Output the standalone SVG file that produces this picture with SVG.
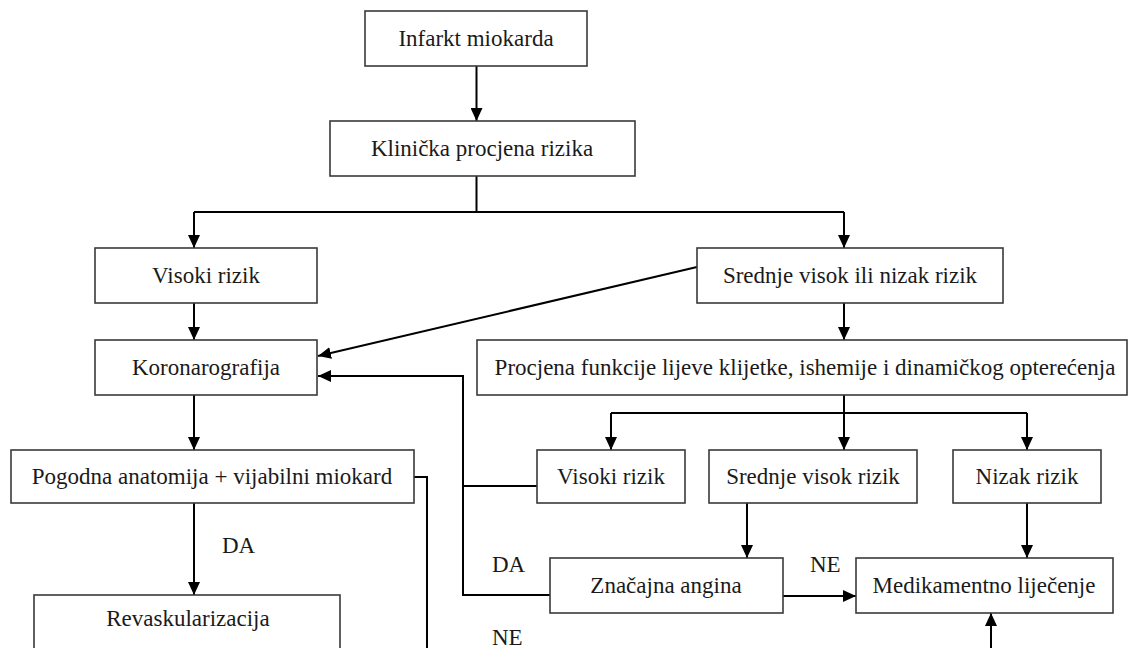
<svg xmlns="http://www.w3.org/2000/svg" width="1128" height="648" viewBox="0 0 1128 648">
<defs>
<marker id="ah" markerUnits="userSpaceOnUse" markerWidth="13" markerHeight="12" refX="13" refY="6" orient="auto">
<path d="M0,0 L13,6 L0,12 z" fill="#000"/>
</marker>
</defs>
<rect width="1128" height="648" fill="#fff"/>
<g id="connectors" fill="none" stroke="#000" stroke-width="2">
<path d="M476.5,66 V121" marker-end="url(#ah)"/>
<path d="M476.5,176 V212"/>
<path d="M194,212 H844"/>
<path d="M194,212 V248" marker-end="url(#ah)"/>
<path d="M844,212 V248" marker-end="url(#ah)"/>
<path d="M194,303 V340" marker-end="url(#ah)"/>
<path d="M697,267 L318,356" marker-end="url(#ah)"/>
<path d="M844,303 V340" marker-end="url(#ah)"/>
<path d="M194,395 V450" marker-end="url(#ah)"/>
<path d="M844,395 V413"/>
<path d="M611,413 H1027"/>
<path d="M611,413 V450" marker-end="url(#ah)"/>
<path d="M844,413 V450" marker-end="url(#ah)"/>
<path d="M1027,413 V450" marker-end="url(#ah)"/>
<path d="M550,595 H463 V376 H318" marker-end="url(#ah)"/>
<path d="M537,486 H463"/>
<path d="M194,503 V595" marker-end="url(#ah)"/>
<path d="M414,477 H427 V648"/>
<path d="M747,503 V558" marker-end="url(#ah)"/>
<path d="M1027,503 V558" marker-end="url(#ah)"/>
<path d="M783,596 H856" marker-end="url(#ah)"/>
<path d="M991,648 V613" marker-end="url(#ah)"/>
</g>
<g id="labels" fill="#1a1a1a" font-family="Liberation Serif" font-size="23">
<text x="222" y="553">DA</text>
<text x="492" y="572">DA</text>
<text x="810" y="572">NE</text>
<text x="492" y="645">NE</text>
</g>
<g id="nodes" font-family="Liberation Serif" font-size="23" text-anchor="middle">
<g id="infarkt"><rect x="365" y="11" width="222" height="55" fill="#fff" stroke="#3a3a3a" stroke-width="1.6"/><text x="476" y="46" fill="#1a1a1a">Infarkt miokarda</text></g>
<g id="klinicka"><rect x="330" y="121" width="305" height="55" fill="#fff" stroke="#3a3a3a" stroke-width="1.6"/><text x="482" y="156" fill="#1a1a1a">Klinička procjena rizika</text></g>
<g id="visoki1"><rect x="95" y="248" width="222" height="55" fill="#fff" stroke="#3a3a3a" stroke-width="1.6"/><text x="206" y="283" fill="#1a1a1a">Visoki rizik</text></g>
<g id="srednje-nizak"><rect x="697" y="248" width="306" height="55" fill="#fff" stroke="#3a3a3a" stroke-width="1.6"/><text x="850" y="283" fill="#1a1a1a">Srednje visok ili nizak rizik</text></g>
<g id="koronarografija"><rect x="95" y="340" width="222" height="55" fill="#fff" stroke="#3a3a3a" stroke-width="1.6"/><text x="206" y="375" fill="#1a1a1a">Koronarografija</text></g>
<g id="procjena"><rect x="477" y="340" width="650" height="55" fill="#fff" stroke="#3a3a3a" stroke-width="1.6"/><text x="805" y="375" fill="#1a1a1a">Procjena funkcije lijeve klijetke, ishemije i dinamičkog opterećenja</text></g>
<g id="pogodna"><rect x="11" y="450" width="403" height="53" fill="#fff" stroke="#3a3a3a" stroke-width="1.6"/><text x="212" y="484" fill="#1a1a1a">Pogodna anatomija + vijabilni miokard</text></g>
<g id="visoki2"><rect x="537" y="450" width="148" height="53" fill="#fff" stroke="#3a3a3a" stroke-width="1.6"/><text x="611" y="484" fill="#1a1a1a">Visoki rizik</text></g>
<g id="srednje"><rect x="709" y="450" width="208" height="53" fill="#fff" stroke="#3a3a3a" stroke-width="1.6"/><text x="813" y="484" fill="#1a1a1a">Srednje visok rizik</text></g>
<g id="nizak"><rect x="953" y="450" width="148" height="53" fill="#fff" stroke="#3a3a3a" stroke-width="1.6"/><text x="1027" y="484" fill="#1a1a1a">Nizak rizik</text></g>
<g id="znacajna"><rect x="550" y="558" width="233" height="55" fill="#fff" stroke="#3a3a3a" stroke-width="1.6"/><text x="666" y="593" fill="#1a1a1a">Značajna angina</text></g>
<g id="medikamentno"><rect x="856" y="558" width="257" height="55" fill="#fff" stroke="#3a3a3a" stroke-width="1.6"/><text x="984" y="593" fill="#1a1a1a">Medikamentno liječenje</text></g>
<g id="revaskularizacija"><rect x="34" y="595" width="306" height="70" fill="#fff" stroke="#3a3a3a" stroke-width="1.6"/><text x="188" y="626" fill="#1a1a1a">Revaskularizacija</text></g>
</g>
</svg>
